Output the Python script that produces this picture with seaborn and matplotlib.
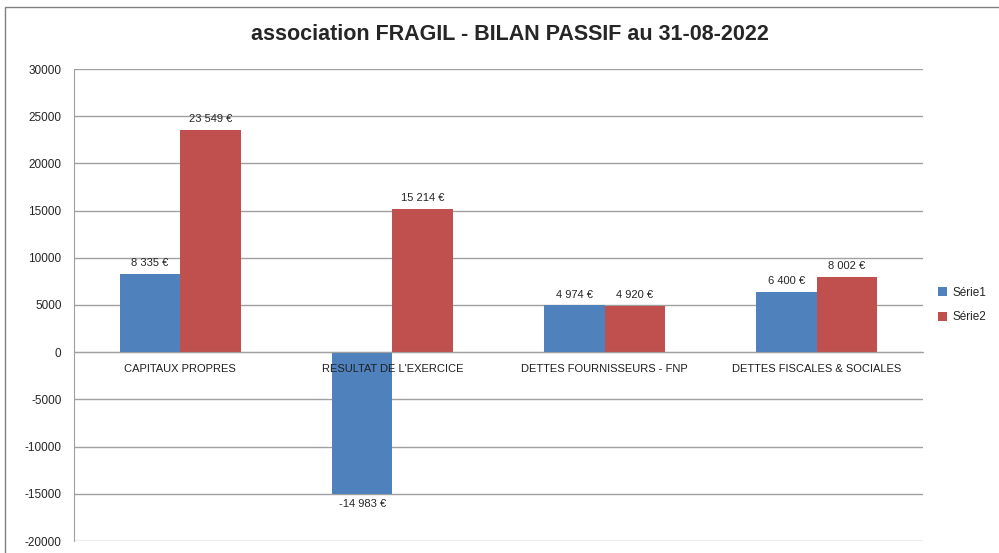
import matplotlib
matplotlib.use("Agg")
import matplotlib.pyplot as plt
import seaborn as sns
import pandas as pd
from matplotlib.patches import Rectangle

categories = ["CAPITAUX PROPRES", "RESULTAT DE L'EXERCICE",
              "DETTES FOURNISSEURS - FNP", "DETTES FISCALES & SOCIALES"]
serie1 = [8335, -14983, 4974, 6400]
serie2 = [23549, 15214, 4920, 8002]
series_names = ["Série1", "Série2"]
yticks = list(range(-20000, 30001, 5000))

df = pd.DataFrame({
    "cat": categories * 2,
    "val": serie1 + serie2,
    "serie": [series_names[0]] * 4 + [series_names[1]] * 4,
})

sns.set_style("white")
plt.rcParams["font.family"] = ["Liberation Sans", "DejaVu Sans"]

fig = plt.figure(figsize=(9.99, 5.53), dpi=100)
ax = fig.add_axes([74/999, 1 - 541/553, (923-74)/999, (541-69)/553])

palette = {"Série1": "#4F81BD", "Série2": "#C0504D"}
sns.barplot(data=df, x="cat", y="val", hue="serie", palette=palette,
            width=0.57, gap=0, ax=ax, saturation=1, legend=True, zorder=3,
            linewidth=0)

ax.set_ylim(-20000, 30000)
ax.set_yticks(yticks)
ax.set_yticklabels([str(v) for v in yticks], fontsize=8.5)
ax.set_xlim(-0.5, 3.5)
ax.set_xlabel("")
ax.set_ylabel("")
ax.yaxis.grid(True, color="#A0A0A0", linewidth=1, zorder=0)
ax.set_axisbelow(True)

for s in ["top", "right"]:
    ax.spines[s].set_visible(False)
ax.spines["left"].set_color("#A0A0A0")
ax.spines["bottom"].set_position(("data", 0))
ax.spines["bottom"].set_color("#A0A0A0")
ax.spines["bottom"].set_zorder(4)
ax.tick_params(axis="y", length=5, color="#A0A0A0", direction="out", pad=4)

ax.set_xticks(range(4))
ax.set_xticklabels([""] * 4)
ax.set_xticks([0.5, 1.5, 2.5, 3.5], minor=True)
ax.tick_params(axis="x", which="major", length=0)
ax.tick_params(axis="x", which="minor", length=5, color="#A0A0A0", direction="out")
for i, c in enumerate(categories):
    ax.text(i, -1300, c, ha="center", va="top", fontsize=8, zorder=10,
            color="#202020")

def fmt(v):
    s = f"{abs(v):,}".replace(",", " ")
    return ("-" if v < 0 else "") + s + " €"

for cont in ax.containers:
    labels = [fmt(int(b.get_height())) for b in cont]
    ax.bar_label(cont, labels=labels, padding=4, fontsize=8)

ax.legend(loc="center left", bbox_to_anchor=(1.005, 0.5), frameon=False,
          fontsize=8.5, handlelength=0.8, handleheight=0.8, handletextpad=0.4,
          labelspacing=1.1)

fig.suptitle("association FRAGIL - BILAN PASSIF au 31-08-2022",
             x=0.51, y=1 - 35/553, va="center", fontsize=15.5, fontweight="bold")

fig.patches.append(Rectangle((5/999, -0.05), 1.1, 1 - 7/553 + 0.05,
                             transform=fig.transFigure, fill=False,
                             edgecolor="#808080", linewidth=1))

fig.savefig("out.png", dpi=100)
